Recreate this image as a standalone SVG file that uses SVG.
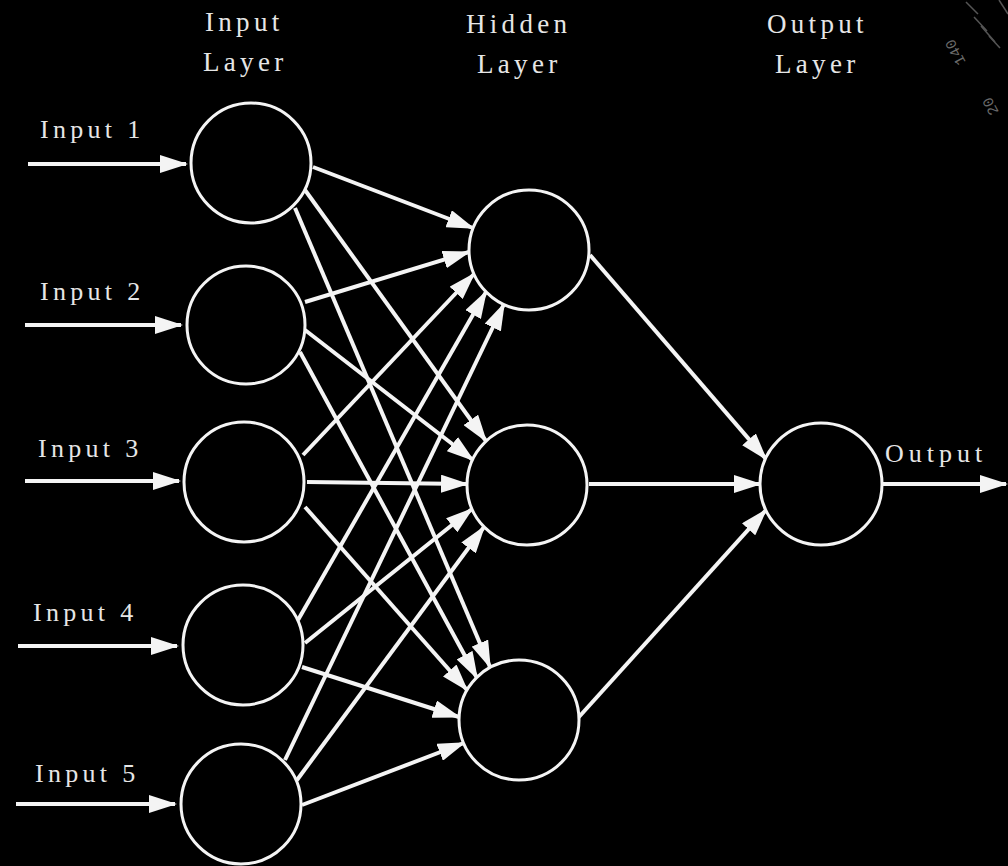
<svg xmlns="http://www.w3.org/2000/svg" width="1008" height="866" viewBox="0 0 1008 866">
<defs>
<style>
.node{fill:#000;stroke:#f4f4f4;stroke-width:3}
.conn line{stroke:#f4f4f4;stroke-width:4;marker-end:url(#ah)}
.lbl{font-family:"Liberation Serif","Times New Roman",serif;font-size:26px;fill:#e6e6e6;letter-spacing:4.3px}
.ttl{font-family:"Liberation Serif","Times New Roman",serif;font-size:27px;fill:#e6e6e6;letter-spacing:4.3px}
.wm{font-family:"Liberation Mono",monospace;font-size:15px;fill:#6a6a6a}
.tick{stroke:#555;stroke-width:1.5}
</style>
<marker id="ah" markerUnits="userSpaceOnUse" markerWidth="28" markerHeight="18" viewBox="0 0 28 18" refX="26" refY="9" orient="auto">
<path d="M0,0 L28,9 L0,18 Z" fill="#f4f4f4"/>
</marker>
</defs>
<rect x="0" y="0" width="1008" height="866" fill="#000"/>

<g id="watermark">
<line class="tick" x1="966" y1="2" x2="978" y2="14"/>
<line class="tick" x1="974" y1="17" x2="987" y2="31"/>
<line class="tick" x1="981" y1="26" x2="995" y2="42"/>
<line class="tick" x1="989" y1="36" x2="1000" y2="48"/>
<line class="tick" x1="999" y1="0" x2="1008" y2="14"/>
<text class="wm" transform="translate(966,62) rotate(242)">140</text>
<text class="wm" transform="translate(999,112) rotate(242)">20</text>
</g>

<g id="titles">
<text class="ttl" x="205" y="31">Input</text>
<text class="ttl" x="203" y="71">Layer</text>
<text class="ttl" x="466" y="33">Hidden</text>
<text class="ttl" x="477" y="73">Layer</text>
<text class="ttl" x="767" y="33">Output</text>
<text class="ttl" x="775" y="73">Layer</text>
</g>

<g class="conn" id="connectors">
<line x1="28" y1="164" x2="186" y2="164"/>
<line x1="25" y1="325" x2="181" y2="325"/>
<line x1="25" y1="481" x2="179" y2="481"/>
<line x1="18" y1="646" x2="177" y2="646"/>
<line x1="16" y1="804" x2="175" y2="804"/>

<line x1="313" y1="167" x2="473" y2="228"/>
<line x1="305" y1="190" x2="486" y2="441"/>
<line x1="295" y1="208" x2="490" y2="667"/>
<line x1="305" y1="302" x2="469" y2="252"/>
<line x1="305" y1="330" x2="473" y2="460"/>
<line x1="300" y1="352" x2="477" y2="678"/>
<line x1="303" y1="455" x2="474" y2="274"/>
<line x1="307" y1="482" x2="467" y2="484"/>
<line x1="305" y1="507" x2="467" y2="690"/>
<line x1="298" y1="620" x2="486" y2="292"/>
<line x1="305" y1="643" x2="472" y2="509"/>
<line x1="302" y1="667" x2="459" y2="717"/>
<line x1="285" y1="760" x2="504" y2="304"/>
<line x1="297" y1="780" x2="484" y2="527"/>
<line x1="302" y1="805" x2="464" y2="743"/>

<line x1="590" y1="255" x2="766" y2="459"/>
<line x1="589" y1="484" x2="760" y2="484"/>
<line x1="578" y1="718" x2="766" y2="510"/>

<line x1="883" y1="484" x2="1006" y2="484"/>
</g>

<g id="in1"><circle class="node" cx="251" cy="163" r="60"/><text class="lbl" x="40" y="138">Input 1</text></g>
<g id="in2"><circle class="node" cx="246" cy="325" r="59"/><text class="lbl" x="40" y="300">Input 2</text></g>
<g id="in3"><circle class="node" cx="244" cy="482" r="60"/><text class="lbl" x="38" y="457">Input 3</text></g>
<g id="in4"><circle class="node" cx="243" cy="645" r="60"/><text class="lbl" x="33" y="621">Input 4</text></g>
<g id="in5"><circle class="node" cx="241" cy="804" r="60"/><text class="lbl" x="35" y="782">Input 5</text></g>
<g id="h1"><circle class="node" cx="529" cy="250" r="60"/></g>
<g id="h2"><circle class="node" cx="527" cy="485" r="60"/></g>
<g id="h3"><circle class="node" cx="519" cy="720" r="60"/></g>
<g id="out"><circle class="node" cx="821" cy="484" r="61"/><text class="lbl" x="885" y="462" style="letter-spacing:5px">Output</text></g>
</svg>
